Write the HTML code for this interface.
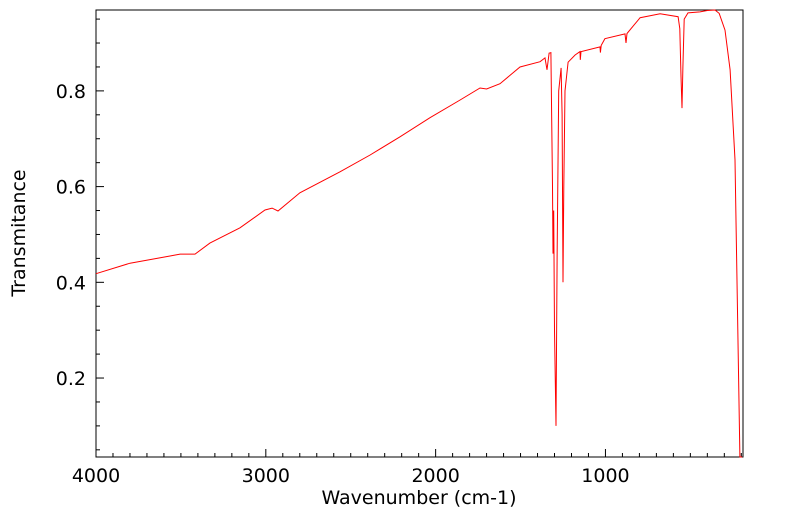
<!DOCTYPE html>
<html><head><meta charset="utf-8"><style>
body{margin:0;background:#fff;}
svg{display:block;font-family:"DejaVu Sans","Liberation Sans",sans-serif;}
</style></head><body>
<svg id="chart" width="799" height="516">
<rect x="96" y="10" width="647" height="447" fill="none" stroke="#000" stroke-width="1"/>
<g id="xt"></g>
<g id="yt"></g>
<path id="line" fill="none" stroke="#ff0000" stroke-width="1"/>
<text x="419" y="504" font-size="19" text-anchor="middle">Wavenumber (cm-1)</text>
<text transform="translate(25,233) rotate(-90)" font-size="19" text-anchor="middle">Transmitance</text>
</svg>
<script>
const wavenumbers=[4000,3800,3564,3505,3417,3329,3152,3005,2963,2928,2799,2563,2386,2210,2033,1856,1739,1700,1621,1503,1385,1356,1344,1332,1321,1312,1309,1305,1300,1291,1285,1275,1261,1255,1250,1245,1238,1220,1179,1150,1148,1144,1032,1030,1025,1003,885,879,873,796,678,572,562,555,549,544,536,514,443,400,355,330,296,266,237,208,195];
const transmittance=[0.418,0.44,0.455,0.459,0.459,0.482,0.514,0.551,0.555,0.549,0.587,0.631,0.666,0.704,0.744,0.781,0.806,0.804,0.815,0.85,0.861,0.869,0.844,0.879,0.88,0.60,0.46,0.55,0.30,0.10,0.45,0.80,0.848,0.75,0.40,0.60,0.80,0.86,0.875,0.882,0.865,0.882,0.892,0.88,0.895,0.909,0.919,0.90,0.92,0.953,0.961,0.955,0.93,0.83,0.764,0.85,0.95,0.963,0.965,0.968,0.969,0.962,0.927,0.844,0.656,0.035,0.02];
const xTicks=[4000,3000,2000,1000];
const yTicks=[0.2,0.4,0.6,0.8];
const X0=96,X1=743,Y0=457,Y1=10,WMAX=4000,WMIN=190,TMIN=0.035,TMAX=0.969;
const sx=w=>X0+(WMAX-w)/(WMAX-WMIN)*(X1-X0);
const sy=t=>Y0-(t-TMIN)/(TMAX-TMIN)*(Y0-Y1);
const NS="http://www.w3.org/2000/svg";
const xt=document.getElementById('xt'),yt=document.getElementById('yt');
function ln(g,x1,y1,x2,y2){const l=document.createElementNS(NS,'line');l.setAttribute('x1',x1);l.setAttribute('y1',y1);l.setAttribute('x2',x2);l.setAttribute('y2',y2);l.setAttribute('stroke','#000');g.appendChild(l);return l;}
for(let w=4000;w>=WMIN;w-=100){const x=sx(w);const major=w%1000===0;const l=ln(xt,x,Y0,x,Y0-(major?8:4));

}
xTicks.forEach(w=>{const t=document.createElementNS(NS,'text');t.setAttribute('x',sx(w));t.setAttribute('y',482);t.setAttribute('font-size','19');t.setAttribute('text-anchor','middle');t.textContent=w;


xt.appendChild(t);});
for(let k=1;k<=19;k++){const v=k*0.05;if(v<TMIN||v>TMAX)continue;const y=sy(v);const major=k%4===0;const l=ln(yt,X0,y,X0+(major?8:4),y);

}
yTicks.forEach(v=>{const t=document.createElementNS(NS,'text');t.setAttribute('x',86);t.setAttribute('y',sy(v)+7);t.setAttribute('font-size','19');t.setAttribute('text-anchor','end');t.textContent=v.toFixed(1);


yt.appendChild(t);});
let d='';
wavenumbers.forEach((w,i)=>{let y=Math.min(Y0,Math.max(Y1,sy(transmittance[i])));d+=(i?'L':'M')+sx(w).toFixed(1)+','+y.toFixed(1);});
document.getElementById('line').setAttribute('d',d);
</script>
</body></html>
